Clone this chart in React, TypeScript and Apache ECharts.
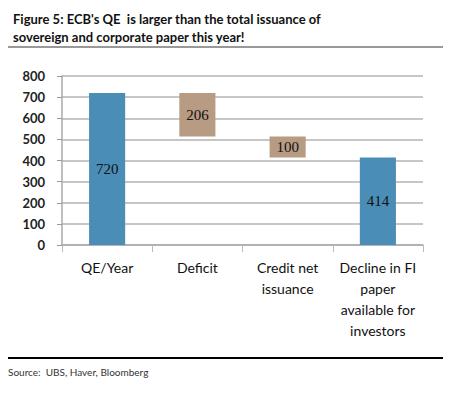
import React, { useEffect, useRef } from "react";
import * as echarts from "echarts";

const categories = ["QE/Year", "Deficit", "Credit net\nissuance", "Decline in FI\npaper\navailable for\ninvestors"];
const baseValues = [0, 514, 414, 0];
const barValues = [720, 206, 100, 414];
const barColors = ["#4a8db6", "#b79c83", "#b79c83", "#4a8db6"];
const yTicks = [0, 100, 200, 300, 400, 500, 600, 700, 800];

export default function App() {
  const ref = useRef<HTMLDivElement>(null);
  useEffect(() => {
    if (!ref.current) return;
    const chart = echarts.init(ref.current, null, { renderer: "svg" });
    chart.setOption({
      animation: false,
      backgroundColor: "#ffffff",
      title: {
        text: "Figure 5: ECB's QE  is larger than the total issuance of\nsovereign and corporate paper this year!",
        left: 8,
        top: 5,
        textStyle: { fontFamily: "Lato", fontWeight: "bold", fontSize: 13, lineHeight: 18, color: "#111" },
      },
      graphic: [
        { type: "line", shape: { x1: 8, y1: 47, x2: 443, y2: 47 }, style: { stroke: "#777", lineWidth: 1.5 } },
        { type: "line", shape: { x1: 8, y1: 358, x2: 443, y2: 358 }, style: { stroke: "#000", lineWidth: 2 } },
        {
          type: "text",
          left: 8,
          top: 367,
          style: { text: "Source:  UBS, Haver, Bloomberg", font: "10px Lato", fill: "#333" },
        },
      ],
      grid: { left: 62, right: 43, top: 76, bottom: 150, containLabel: false },
      xAxis: {
        type: "category",
        data: categories,
        axisLine: { lineStyle: { color: "#aaa", width: 1.5 } },
        axisTick: { show: true, length: 7, lineStyle: { color: "#bbb" } },
        axisLabel: { interval: 0, margin: 12, fontFamily: "Lato", fontSize: 14, lineHeight: 21, color: "#111", align: "center" },
      },
      yAxis: {
        type: "value",
        min: yTicks[0],
        max: yTicks[yTicks.length - 1],
        interval: 100,
        axisLine: { show: true, lineStyle: { color: "#aaa", width: 1.5 } },
        axisTick: { show: true, length: 5, lineStyle: { color: "#999" } },
        splitLine: { lineStyle: { color: "#b3b3b3", width: 1.5 } },
        axisLabel: { margin: 17, fontFamily: "Lato", fontSize: 13, fontWeight: "bold", color: "#222" },
      },
      series: [
        {
          type: "bar",
          stack: "w",
          data: baseValues,
          itemStyle: { color: "transparent" },
          silent: true,
          barWidth: "40%",
        },
        {
          type: "bar",
          stack: "w",
          barWidth: "40%",
          data: barValues.map((v, i) => ({ value: v, itemStyle: { color: barColors[i] } })),
          label: {
            show: true,
            position: "inside",
            fontFamily: "Liberation Serif",
            fontSize: 15,
            color: "#111",
          },
        },
      ],
    });
    return () => chart.dispose();
  }, []);
  return <div ref={ref} style={{ width: 466, height: 395, position: "absolute", left: 0, top: 0 }} />;
}
